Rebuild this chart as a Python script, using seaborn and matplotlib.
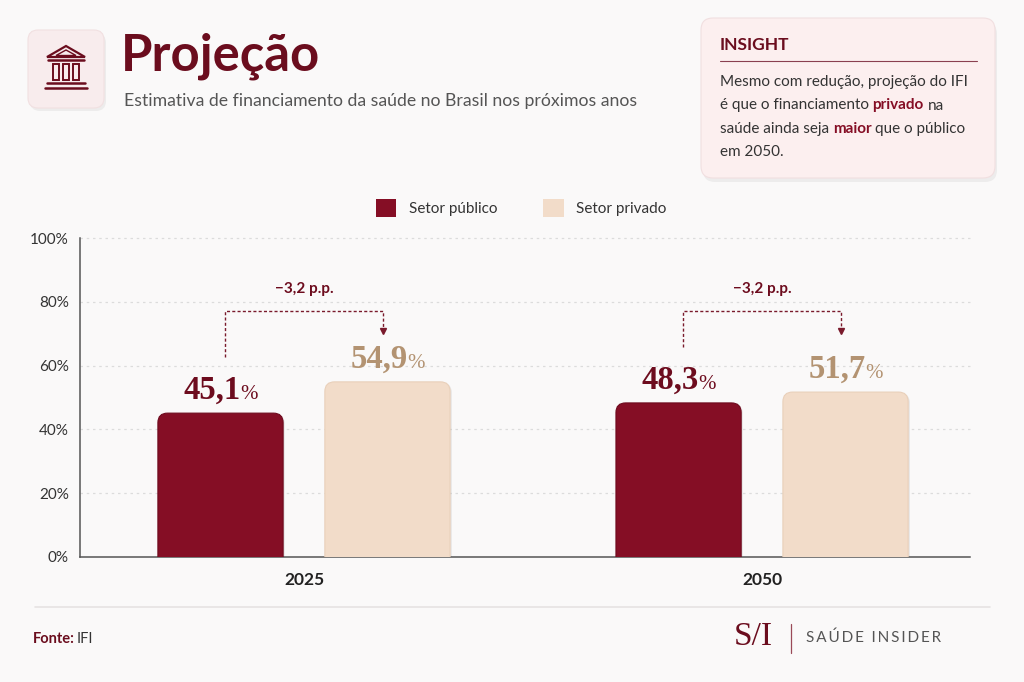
import matplotlib
matplotlib.use("Agg")
import matplotlib.pyplot as plt
import seaborn as sns
import pandas as pd
from matplotlib.patches import FancyBboxPatch, Rectangle, Polygon
from matplotlib.offsetbox import TextArea, HPacker, AnnotationBbox

# ---------------- data ----------------
years = ["2025", "2050"]
sectors = ["Setor público", "Setor privado"]
publico = [45.1, 48.3]
privado = [54.9, 51.7]
value_labels_pub = ["45,1", "48,3"]
value_labels_priv = ["54,9", "51,7"]
delta_labels = ["−3,2 p.p.", "−3,2 p.p."]
yticks = [0, 20, 40, 60, 80, 100]
ytick_labels = ["0%", "20%", "40%", "60%", "80%", "100%"]

title = "Projeção"
subtitle = "Estimativa de financiamento da saúde no Brasil nos próximos anos"
insight_title = "INSIGHT"
insight_lines = [
    [("Mesmo com redução, projeção do IFI", False)],
    [("é que o financiamento", False), ("privado", True), ("na", False)],
    [("saúde ainda seja", False), ("maior", True), ("que o público", False)],
    [("em 2050.", False)],
]
source_label = "Fonte:"
source_value = "IFI"
logo_mark = "S/I"
logo_text = "\u2009".join("SAÚDE") + "\u2009 \u2009" + "\u2009".join("INSIDER")

# ---------------- style ----------------
sns.set_theme(style="white")
plt.rcParams['font.family'] = ['Lato', 'DejaVu Sans']

BG = "#faf9f9"
DARK = "#850e25"
TITLE_C = "#6b0d1e"
BEIGE = "#f2dcc9"
BEIGE_TXT = "#b39372"
TXT = "#333333"

W, H = 1024, 682
fig = plt.figure(figsize=(W / 100, H / 100), dpi=100, facecolor=BG)
bg = fig.add_axes([0, 0, 1, 1], zorder=0)
bg.set_xlim(0, W)
bg.set_ylim(H, 0)
bg.axis('off')


def fax(l, t, r, b):
    return [l / W, 1 - b / H, (r - l) / W, (b - t) / H]


# ---------------- header ----------------
bg.add_patch(FancyBboxPatch((30, 33), 76, 78, boxstyle="round,pad=0,rounding_size=10",
                            fc="#000000", alpha=0.05, ec="none"))
bg.add_patch(FancyBboxPatch((28, 30), 76, 78, boxstyle="round,pad=0,rounding_size=10",
                            fc="#f8eced", ec="#f1e0e1", lw=0.8))
bg.add_patch(Polygon([(66, 46), (47, 57), (85, 57)], closed=True, fc="none", ec=TITLE_C, lw=1.6))
bg.add_patch(Polygon([(66, 50), (56, 55.5), (76, 55.5)], closed=True, fc="none", ec=TITLE_C, lw=1.0))
bg.plot([48, 84], [60, 60], color=TITLE_C, lw=1.8)
for cx in [56, 66, 76]:
    bg.add_patch(Rectangle((cx - 3, 64), 6, 16, fc="none", ec=TITLE_C, lw=1.4))
bg.plot([47, 85], [83, 83], color=TITLE_C, lw=1.8)
bg.plot([45, 87], [88, 88], color=TITLE_C, lw=1.8)

bg.text(121, 56, title, fontsize=36.5, fontweight='bold', color=TITLE_C, va='center', ha='left')
bg.text(124, 101, subtitle, fontsize=12.7, color="#555555", va='center', ha='left')

# insight box
bg.add_patch(FancyBboxPatch((703, 22), 294, 160, boxstyle="round,pad=0,rounding_size=12",
                            fc="#000000", alpha=0.05, ec="none"))
bg.add_patch(FancyBboxPatch((701, 18), 294, 160, boxstyle="round,pad=0,rounding_size=12",
                            fc="#fcefef", ec="#f1dfe0", lw=0.8))
bg.text(720, 45, insight_title, fontsize=12.5, fontweight='bold', color=TITLE_C, va='center', ha='left')
bg.plot([720, 977], [61, 61], color="#8a4050", lw=0.8)
for i, parts in enumerate(insight_lines):
    children = []
    for txt, bold in parts:
        props = dict(fontsize=11, color=(DARK if bold else TXT),
                     fontweight=('bold' if bold else 'normal'),
                     family=['Lato', 'DejaVu Sans'])
        children.append(TextArea(txt, textprops=props))
    pack = HPacker(children=children, align="baseline", pad=0, sep=2.6)
    ab = AnnotationBbox(pack, (720, 82 + i * 23.5), xycoords='data', box_alignment=(0, 0.5),
                        frameon=False, pad=0, annotation_clip=False)
    bg.add_artist(ab)

# ---------------- chart ----------------
ax = fig.add_axes(fax(80, 238, 970, 557), zorder=1)
ax.set_facecolor('none')

df = pd.DataFrame({
    "ano": years * 2,
    "setor": [sectors[0]] * len(years) + [sectors[1]] * len(years),
    "valor": publico + privado,
})
sns.barplot(data=df, x="ano", y="valor", hue="setor", order=years, hue_order=sectors,
            palette=[DARK, BEIGE], width=0.729, gap=0.25, saturation=1,
            errorbar=None, ax=ax, legend=False)

bars = sorted([p for p in list(ax.patches) if isinstance(p, Rectangle)], key=lambda p: p.get_x())
rx = 0.021
asp = 3.0 / rx
geo = []
for k, p in enumerate(bars):
    x0, w, h = p.get_x(), p.get_width(), p.get_height()
    fc = p.get_facecolor()
    p.set_visible(False)
    is_pub = (k % 2 == 0)
    ax.add_patch(FancyBboxPatch((x0 + 0.004, -5), w, h + 5 - 0.4,
                                boxstyle=f"round,pad=0,rounding_size={rx}", mutation_aspect=asp,
                                fc="#000000", alpha=0.07, ec="none", zorder=2))
    ax.add_patch(FancyBboxPatch((x0, -5), w, h + 5,
                                boxstyle=f"round,pad=0,rounding_size={rx}", mutation_aspect=asp,
                                fc=fc, ec=("#6e0a1e" if is_pub else "#e9d0ba"), lw=0.8, zorder=3))
    geo.append((x0 + w / 2, h))

for i in range(len(years)):
    (xp, hp), (xv, hv) = geo[2 * i], geo[2 * i + 1]
    for (xc, hc, lab, col) in [(xp, hp, value_labels_pub[i], "#6d0c1e"),
                               (xv, hv, value_labels_priv[i], BEIGE_TXT)]:
        num = TextArea(lab, textprops=dict(fontsize=23.5, fontweight='bold', color=col,
                                           family=['Liberation Serif', 'DejaVu Serif']))
        pct = TextArea("%", textprops=dict(fontsize=15, fontweight='normal', color=col,
                                           family=['Liberation Serif', 'DejaVu Serif']))
        pack = HPacker(children=[num, pct], align="baseline", pad=0, sep=0)
        ab = AnnotationBbox(pack, (xc, hc + 2.3), xycoords='data', box_alignment=(0.5, 0),
                            frameon=False, pad=0, annotation_clip=False, zorder=5)
        ax.add_artist(ab)
    yl, yt, yr = hp + 17.5, 77.0, 71.0
    ax.plot([xp + 0.01, xp + 0.01, xv - 0.01, xv - 0.01], [yl, yt, yt, yr], ls=(0, (2.2, 1.6)),
            color="#7a1a2c", lw=1.0, zorder=4, clip_on=False)
    ax.plot([xv - 0.01], [yr], marker='v', ms=4.5, color="#7a1a2c", zorder=4, clip_on=False)
    ax.text((xp + xv) / 2, 84, delta_labels[i], fontsize=11, fontweight='bold',
            color="#6d0c1e", ha='center', va='center')

ax.set_ylim(0, 100)
ax.set_xlim(-0.489, 1.454)
ax.set_yticks(yticks, ytick_labels)
ax.set_xlabel("")
ax.set_ylabel("")
for yv in yticks[1:]:
    ax.axhline(yv, color="#dcdcdc", lw=0.9, ls=(0, (2, 3)), zorder=1, clip_on=False)
ax.tick_params(axis='y', length=0, pad=8, labelsize=11, labelcolor=TXT)
ax.tick_params(axis='x', length=0, pad=11, labelsize=12.5, labelcolor="#222222")
for lab in ax.get_xticklabels():
    lab.set_fontweight('bold')
for s in ['top', 'right']:
    ax.spines[s].set_visible(False)
for s in ['left', 'bottom']:
    ax.spines[s].set_color("#555555")
    ax.spines[s].set_linewidth(1.1)

handles = [Rectangle((0, 0), 1, 1, fc=DARK, ec="none"), Rectangle((0, 0), 1, 1, fc=BEIGE, ec="none")]
ax.legend(handles, sectors, loc='center', bbox_to_anchor=(0.4955, 1.094), ncol=2, frameon=False,
          handlelength=1.35, handleheight=1.35, columnspacing=3.0, handletextpad=0.8,
          fontsize=11, labelcolor=TXT)

# ---------------- footer ----------------
bg.plot([35, 990], [607, 607], color="#e6e3e3", lw=1.2)
bg.text(33, 639, source_label, fontsize=10.5, fontweight='bold', color=TITLE_C, va='center', ha='left')
bg.text(77, 639, source_value, fontsize=10.5, color=TXT, va='center', ha='left')
bg.text(734, 637, logo_mark, fontsize=24, color=TITLE_C, va='center', ha='left',
        family=['Liberation Serif', 'DejaVu Serif'])
bg.plot([791, 791], [624, 653], color="#9a4a58", lw=0.9)
bg.text(806, 638, logo_text, fontsize=11, color="#555555", va='center', ha='left',
        family=['Lato', 'DejaVu Sans'])

fig.savefig("out.png", dpi=100, facecolor=BG)
